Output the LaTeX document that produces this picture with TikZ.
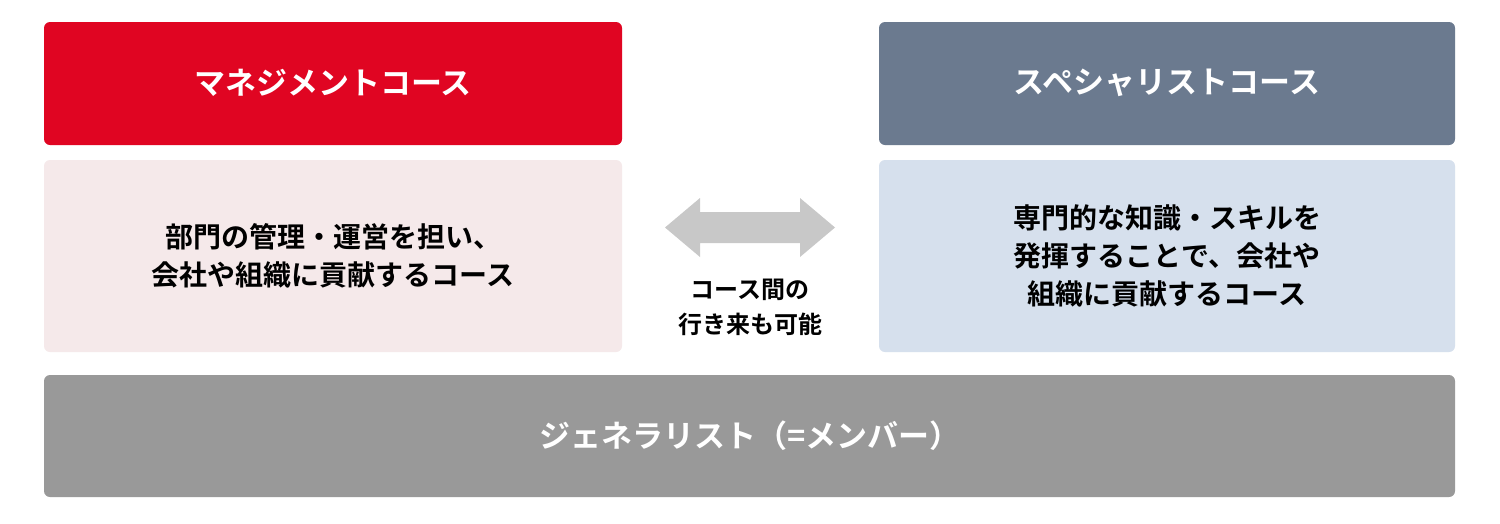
\documentclass[tikz,border=0pt]{standalone}
\usepackage{fontspec}
\newfontfamily\jp{Noto Sans CJK JP}[BoldFont={* Bold}]
\begin{document}
\begin{tikzpicture}[x=1pt,y=-1pt,
  box/.style={rounded corners=6pt,draw=none},
  ttl/.style={font=\jp\bfseries\fontsize{31}{36}\selectfont,text=white},
  body/.style={font=\jp\bfseries\fontsize{28}{38}\selectfont,align=center,text=black}]
\definecolor{cred}{HTML}{E00522}
\definecolor{cslate}{HTML}{6B7A8F}
\definecolor{cpink}{HTML}{F5E9EA}
\definecolor{cblue}{HTML}{D6E0ED}
\definecolor{cgray}{HTML}{999999}
\definecolor{carrow}{HTML}{C8C8C8}
\useasboundingbox[fill=white] (0,0) rectangle (1500,523);
\fill[box,cred] (44,22) rectangle (622,145);
\node[ttl] (m) at (333,83) {マネジメントコース};
\fill[box,cslate] (879,22) rectangle (1455,145);
\node[ttl] (s) at (1167,83) {スペシャリストコース};
\fill[box,cpink] (44,160) rectangle (622,352);
\node[body] (mb) at (333,256) {部門の管理・運営を担い、\\会社や組織に貢献するコース};
\fill[box,cblue] (879,160) rectangle (1455,352);
\node[body] (sb) at (1167,256) {専門的な知識・スキルを\\発揮することで、会社や\\組織に貢献するコース};
\fill[box,cgray] (44,375) rectangle (1455,497);
\node[ttl] (g) at (750,436) {ジェネラリスト（=メンバー）};
\fill[carrow] (665,227.5) -- (700,198) -- (700,212) -- (800,212) -- (800,198) -- (835,227.5) -- (800,257) -- (800,243) -- (700,243) -- (700,257) -- cycle;
\node[font=\jp\bfseries\fontsize{24}{35}\selectfont,align=center] (c) at (750,307) {コース間の\\行き来も可能};
\end{tikzpicture}
\end{document}
